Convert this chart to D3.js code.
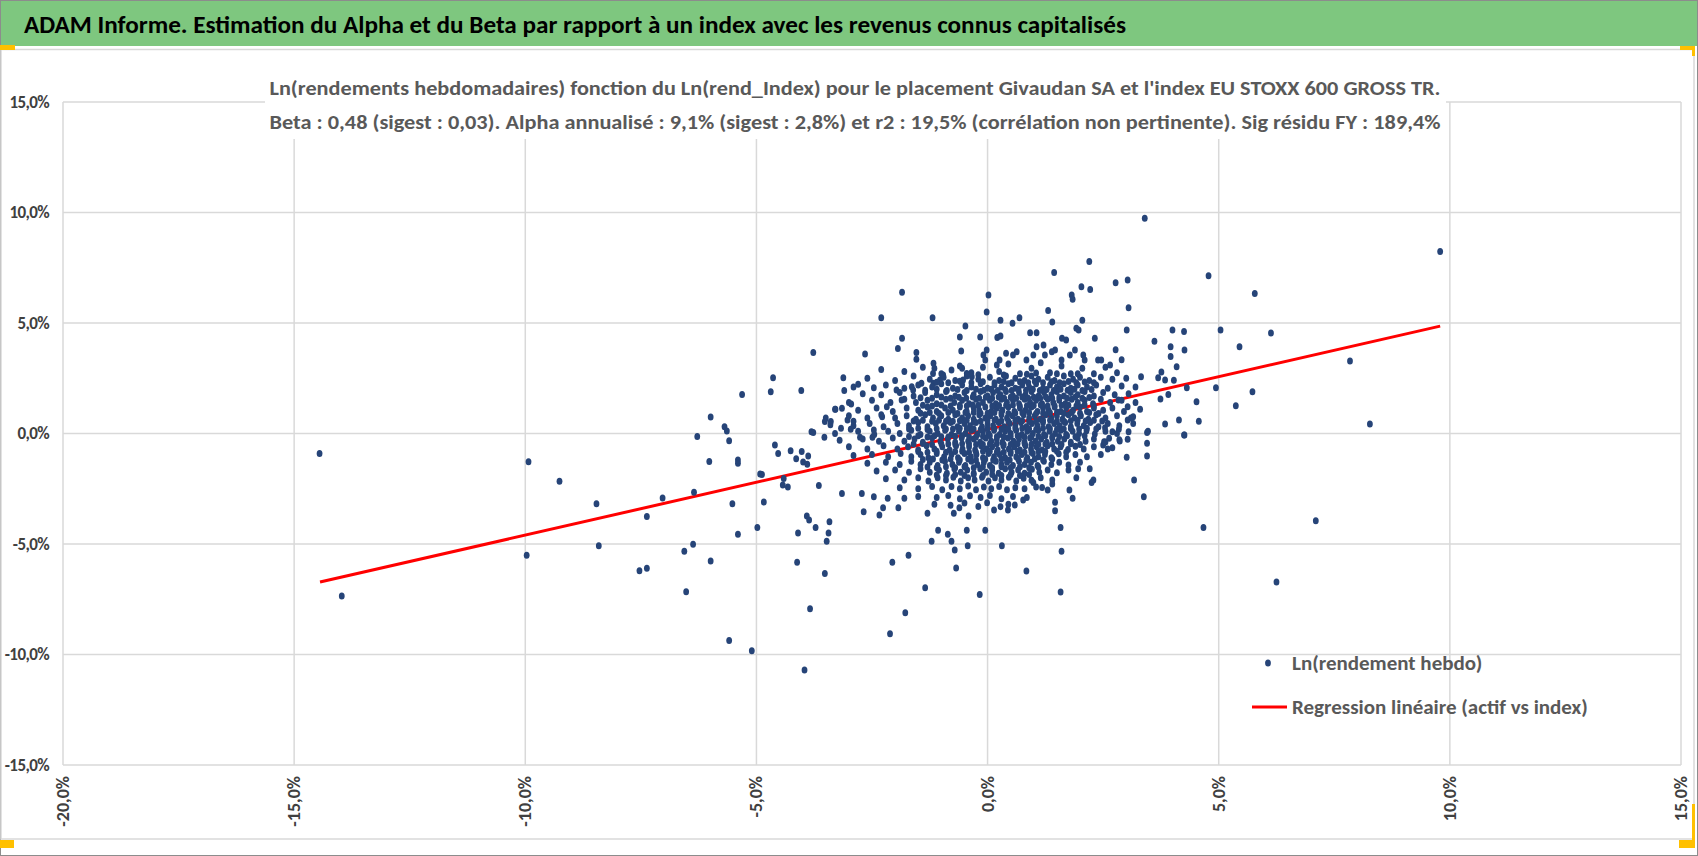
<!DOCTYPE html>
<html>
<head>
<meta charset="utf-8">
<script src="https://cdn.jsdelivr.net/npm/d3@7"></script>
<style>
  body { margin: 0; background: #fff; }
  svg text { font-family: Carlito, Calibri, Lato, "Open Sans", sans-serif; }
</style>
</head>
<body>
<svg id="chart" width="1698" height="856"></svg>
<script>
// header texts
const mainTitle = "ADAM Informe. Estimation du Alpha et du Beta par rapport à un index avec les revenus connus capitalisés"
const subTitle = [
    "Ln(rendements hebdomadaires) fonction du Ln(rend_Index) pour le placement Givaudan SA et l'index EU STOXX 600 GROSS TR.",
    "Beta : 0,48 (sigest : 0,03). Alpha annualisé : 9,1% (sigest : 2,8%) et r2 : 19,5% (corrélation non pertinente). Sig résidu FY : 189,4%"
]
const legendLabels = ["Ln(rendement hebdo)", "Regression linéaire (actif vs index)"]

// axis ticks (in %)
const xTicks = [-20, -15, -10, -5, 0, 5, 10, 15]
const yTicks = [-15, -10, -5, 0, 5, 10, 15]

// regression line (actif vs index), in %
const regX = [-14.44, 9.79]
const regY = [-6.72, 4.86]

// weekly log returns [index %, asset %]
// outliers / sparse points
const outerPoints = [
    [-14.45, -0.90], [-13.97, -7.35], [-9.93, -1.28], [-9.97, -5.51], [-9.26, -2.16],
    [-8.46, -3.18], [-8.41, -5.08], [-7.03, -2.92], [-7.37, -3.75], [-7.53, -6.21],
    [-7.37, -6.10], [-6.52, -7.16], [-6.56, -5.33], [-6.37, -5.01], [-6.35, -2.66],
    [-6.28, -0.14], [-6.02, -1.27], [-5.99, 0.75], [-5.99, -5.77], [-5.69, 0.31],
    [-5.64, 0.11], [-5.59, -0.33], [-5.40, -1.20], [-5.40, -1.35], [-5.52, -3.18],
    [-5.40, -4.56], [-5.31, 1.77], [-5.59, -9.37], [-5.10, -9.83], [-4.98, -4.25],
    [-4.92, -1.83], [-3.96, -10.70], [-3.84, -7.93], [-3.52, -6.34], [-4.12, -5.83],
    [-4.10, -4.50], [-3.48, -4.88], [-3.44, -4.50], [-3.42, -3.99], [-3.72, -4.25],
    [-3.91, -3.73], [-3.86, -3.91], [-4.84, -3.10], [-4.88, -1.85], [-4.43, -2.33],
    [-4.32, -2.42], [-4.41, -2.04], [-4.60, -0.52], [-4.53, -0.90], [-4.26, -0.78],
    [-4.14, -1.14], [-4.02, -0.82], [-3.99, -1.29], [-3.90, -1.39], [-3.88, -1.02],
    [-3.65, -2.35], [-2.11, -9.06], [-1.78, -8.11], [-1.35, -6.98], [-2.06, -5.83],
    [-1.71, -5.51], [-1.21, -4.88], [-1.07, -4.38], [-0.86, -4.56], [-0.78, -4.88],
    [-0.71, -5.27], [-0.68, -6.09], [-0.43, -5.08], [-0.45, -4.38], [-0.17, -7.29],
    [-0.05, -4.38], [0.31, -5.08], [0.84, -6.22], [1.58, -4.25], [1.60, -5.33],
    [1.58, -7.17], [1.46, -3.11], [1.46, -3.49], [3.38, -2.86], [3.17, -2.10],
    [4.67, -4.25], [4.26, -0.07], [3.45, -1.02], [3.45, -0.44], [3.45, 0.04],
    [3.01, -1.08], [3.03, -0.26], [2.86, -0.34], [2.70, -0.64], [2.50, -0.52],
    [2.52, -0.37], [2.63, -0.22], [2.21, -1.59], [2.29, -2.10], [2.25, -2.22],
    [1.84, -2.93], [1.77, -2.56], [1.92, -2.00], [1.96, -1.59], [0.99, -2.22],
    [1.18, -2.44], [1.30, -2.56], [1.40, -2.29], [0.59, -3.24], [0.77, -3.01],
    [0.44, -3.46], [0.28, -3.31], [0.14, -3.46], [-0.01, -3.13], [-0.41, -3.73],
    [-0.73, -3.61], [-0.61, -3.36], [-1.30, -3.61], [-2.34, -3.69], [-2.68, -3.54],
    [-2.26, -3.36], [-2.16, -2.93], [-1.93, -3.36], [-1.80, -2.93], [-3.15, -2.72],
    [-2.46, -2.86], [-2.72, -2.72],
    [3.40, 9.74], [2.20, 7.78], [1.44, 7.28], [2.77, 6.82], [3.03, 6.95],
    [2.03, 6.64], [2.22, 6.52], [1.82, 6.27], [1.84, 6.07], [4.78, 7.14],
    [3.05, 5.69], [0.02, 6.27], [-0.02, 5.50], [-1.85, 6.39], [-2.30, 5.24],
    [-1.19, 5.24], [1.31, 5.57], [1.40, 5.05], [2.05, 5.12], [0.28, 5.12],
    [0.54, 4.99], [0.69, 5.24], [-0.48, 4.86], [4.00, 4.68], [4.25, 4.61],
    [5.04, 4.68], [3.61, 4.17], [3.96, 3.93], [4.26, 3.78], [5.45, 3.93],
    [3.01, 4.68], [2.32, 4.31], [3.96, 3.48], [4.09, 3.02], [3.76, 2.78],
    [3.69, 2.52], [3.84, 2.42], [4.03, 2.41], [3.32, 2.57], [4.31, 2.07],
    [4.94, 2.07], [4.52, 1.44], [5.37, 1.26], [4.14, 0.61], [4.57, 0.55],
    [3.84, 0.43], [3.47, 0.10], [4.25, -0.07], [3.74, 1.56], [3.91, 1.77],
    [-4.64, 2.52], [-4.69, 1.89], [-4.03, 1.95], [-3.77, 3.66], [-2.65, 3.60],
    [-3.12, 2.52], [-3.10, 1.95], [-2.80, 2.23], [-2.46, 2.07], [-1.85, 4.31],
    [-1.94, 3.85], [-1.54, 3.66], [-1.54, 3.36], [-0.60, 4.37], [-0.57, 3.73],
    [-0.16, 4.37], [0.21, 4.34], [0.28, 4.41], [0.92, 4.56], [1.06, 4.56],
    [1.61, 4.31], [1.70, 4.23], [1.92, 4.76], [1.97, 4.68], [2.77, 3.79],
    [2.90, 3.34], [-3.81, 0.08], [-3.77, 0.05], [-3.52, 0.54], [-3.39, 0.54],
    [-3.29, 1.10], [-3.15, 1.14], [-3.53, -0.17], [-3.17, 0.24], [-2.96, 0.19],
    [-3.03, 0.61], [-2.90, 0.55], [-2.95, 1.33],
    [5.78, 6.33], [6.13, 4.55], [7.84, 3.28], [5.73, 1.89], [8.27, 0.43],
    [7.10, -3.95], [6.25, -6.72], [9.79, 8.23],
    [2.83, 1.52], [3.03, 1.21], [3.15, 0.76], [3.03, 0.61], [2.84, 0.19],
    [2.70, 0.08], [2.54, 0.26], [-2.76, -0.17], [-2.49, -0.17], [-2.46, 0.16],
    [-2.28, 0.76], [-2.18, 1.21], [-1.97, 1.97], [-1.86, 1.52], [-1.64, 2.12],
    [-1.61, 1.97], [-1.43, 2.27], [-1.17, 2.27], [-1.03, 2.42]
]

// dense cloud around the origin
const corePoints = [
    [-1.17, 3.18], [-1.15, 2.95], [-1.18, 2.72], [-0.96, 2.65], [-0.78, 2.87], [-0.55, 2.95],
    [-0.53, 2.42], [-0.34, 2.57], [-0.09, 3.55], [-0.02, 3.78], [-0.05, 3.33], [0.20, 3.10],
    [0.26, 3.33], [0.40, 3.63], [0.55, 3.55], [0.63, 3.70], [0.84, 3.33], [0.99, 3.55],
    [1.06, 3.93], [1.21, 4.00], [1.24, 3.55], [1.39, 3.70], [1.46, 3.78], [1.60, 3.33],
    [1.78, 3.55], [1.89, 3.78], [2.07, 3.55], [2.10, 3.33], [2.39, 3.33], [2.46, 3.33], [2.65, 3.10],
    [-2.3, 2.9], [-1.8, 2.8], [-1.4, 3.0], [-1.0, 2.7], [-0.6, 3.05], [-0.35, 2.75], [-0.1, 3.0],
    [0.25, 2.8], [0.45, 3.15], [0.7, 2.7], [0.95, 2.95], [1.15, 3.2], [1.35, 2.75], [1.6, 3.05],
    [1.8, 2.7], [2.05, 2.95], [2.3, 2.7], [2.55, 3.0], [2.8, 2.75],
    [-2.6, 2.5], [-2.0, 2.4], [-1.6, 2.6], [-1.25, 2.45], [-0.95, 2.55], [-0.7, 2.4], [-0.45, 2.6],
    [-0.2, 2.45], [0.05, 2.55], [0.25, 2.4], [0.4, 2.6], [0.6, 2.5], [0.8, 2.4], [0.95, 2.6],
    [1.1, 2.45], [1.3, 2.55], [1.45, 2.4], [1.65, 2.6], [1.85, 2.45], [2.0, 2.55], [2.2, 2.4],
    [2.45, 2.55], [2.7, 2.45], [3.0, 2.5],
    [-2.9, 2.1], [-2.2, 2.2], [-1.8, 2.05], [-1.5, 2.2], [-1.2, 2.1], [-1.0, 2.25], [-0.75, 2.05],
    [-0.55, 2.2], [-0.35, 2.1], [-0.15, 2.25], [0.0, 2.05], [0.15, 2.2], [0.3, 2.1], [0.45, 2.25],
    [0.6, 2.05], [0.75, 2.2], [0.9, 2.1], [1.05, 2.25], [1.2, 2.05], [1.35, 2.2], [1.5, 2.1],
    [1.65, 2.25], [1.8, 2.05], [1.95, 2.2], [2.15, 2.1], [2.35, 2.2], [2.6, 2.05], [2.9, 2.15], [3.2, 2.1],
    [-2.7, 1.8], [-2.3, 1.75], [-1.9, 1.85], [-1.6, 1.7], [-1.35, 1.85], [-1.1, 1.75], [-0.9, 1.9],
    [-0.7, 1.7], [-0.5, 1.85], [-0.3, 1.75], [-0.15, 1.9], [0.0, 1.7], [0.12, 1.85], [0.28, 1.75],
    [0.4, 1.9], [0.55, 1.7], [0.68, 1.85], [0.82, 1.75], [0.95, 1.9], [1.1, 1.7], [1.22, 1.85],
    [1.38, 1.75], [1.5, 1.9], [1.65, 1.7], [1.8, 1.85], [1.95, 1.75], [2.1, 1.9], [2.3, 1.7],
    [2.5, 1.85], [2.75, 1.75], [3.05, 1.8],
    [-3.0, 1.4], [-2.5, 1.5], [-2.1, 1.4], [-1.8, 1.55], [-1.55, 1.4], [-1.3, 1.5], [-1.1, 1.35],
    [-0.9, 1.55], [-0.72, 1.4], [-0.55, 1.5], [-0.4, 1.35], [-0.25, 1.55], [-0.1, 1.4], [0.05, 1.5],
    [0.18, 1.35], [0.3, 1.55], [0.42, 1.4], [0.55, 1.5], [0.68, 1.35], [0.8, 1.55], [0.92, 1.4],
    [1.05, 1.5], [1.18, 1.35], [1.3, 1.55], [1.42, 1.4], [1.55, 1.5], [1.68, 1.35], [1.82, 1.55],
    [1.95, 1.4], [2.1, 1.5], [2.28, 1.35], [2.45, 1.55], [2.65, 1.4], [2.9, 1.5], [3.2, 1.4],
    [-3.3, 1.1], [-2.8, 1.05], [-2.4, 1.15], [-2.05, 1.0], [-1.75, 1.15], [-1.5, 1.05], [-1.3, 1.2],
    [-1.1, 1.0], [-0.92, 1.15], [-0.75, 1.05], [-0.6, 1.2], [-0.45, 1.0], [-0.3, 1.15], [-0.18, 1.05],
    [-0.05, 1.2], [0.08, 1.0], [0.2, 1.15], [0.32, 1.05], [0.45, 1.2], [0.58, 1.0], [0.7, 1.15],
    [0.82, 1.05], [0.95, 1.2], [1.08, 1.0], [1.2, 1.15], [1.32, 1.05], [1.45, 1.2], [1.58, 1.0],
    [1.7, 1.15], [1.85, 1.05], [2.0, 1.2], [2.15, 1.0], [2.3, 1.15], [2.5, 1.05], [2.7, 1.15],
    [2.95, 1.0], [3.3, 1.1],
    [-3.5, 0.7], [-3.0, 0.8], [-2.6, 0.7], [-2.3, 0.85], [-2.0, 0.7], [-1.75, 0.8], [-1.55, 0.65],
    [-1.35, 0.85], [-1.18, 0.7], [-1.0, 0.8], [-0.85, 0.65], [-0.7, 0.85], [-0.55, 0.7], [-0.42, 0.8],
    [-0.3, 0.65], [-0.18, 0.85], [-0.05, 0.7], [0.06, 0.8], [0.18, 0.65], [0.3, 0.85], [0.42, 0.7],
    [0.54, 0.8], [0.66, 0.65], [0.78, 0.85], [0.9, 0.7], [1.02, 0.8], [1.14, 0.65], [1.26, 0.85],
    [1.38, 0.7], [1.5, 0.8], [1.62, 0.65], [1.75, 0.85], [1.88, 0.7], [2.02, 0.8], [2.18, 0.65],
    [2.35, 0.85], [2.55, 0.7], [2.8, 0.8], [3.1, 0.7],
    [-3.4, 0.4], [-2.9, 0.35], [-2.55, 0.45], [-2.25, 0.3], [-1.95, 0.45], [-1.7, 0.35], [-1.5, 0.5],
    [-1.3, 0.3], [-1.12, 0.45], [-0.95, 0.35], [-0.8, 0.5], [-0.65, 0.3], [-0.5, 0.45], [-0.38, 0.35],
    [-0.25, 0.5], [-0.12, 0.3], [0.0, 0.45], [0.12, 0.35], [0.24, 0.5], [0.36, 0.3], [0.48, 0.45],
    [0.6, 0.35], [0.72, 0.5], [0.84, 0.3], [0.96, 0.45], [1.08, 0.35], [1.2, 0.5], [1.32, 0.3],
    [1.44, 0.45], [1.56, 0.35], [1.68, 0.5], [1.8, 0.3], [1.94, 0.45], [2.08, 0.35], [2.22, 0.5],
    [2.4, 0.3], [2.6, 0.45], [2.85, 0.35], [3.15, 0.45],
    [-3.3, 0.0], [-2.8, 0.1], [-2.45, -0.05], [-2.15, 0.1], [-1.9, 0.0], [-1.65, 0.15], [-1.45, -0.05],
    [-1.25, 0.1], [-1.08, 0.0], [-0.92, 0.15], [-0.78, -0.05], [-0.62, 0.1], [-0.48, 0.0], [-0.35, 0.15],
    [-0.22, -0.05], [-0.1, 0.1], [0.02, 0.0], [0.14, 0.15], [0.26, -0.05], [0.38, 0.1], [0.5, 0.0],
    [0.62, 0.15], [0.74, -0.05], [0.86, 0.1], [0.98, 0.0], [1.1, 0.15], [1.22, -0.05], [1.34, 0.1],
    [1.46, 0.0], [1.58, 0.15], [1.7, -0.05], [1.84, 0.1], [1.98, 0.0], [2.14, 0.12], [2.32, -0.02],
    [2.55, 0.1], [2.8, 0.0], [3.05, 0.08],
    [-3.2, -0.3], [-2.7, -0.25], [-2.35, -0.35], [-2.05, -0.2], [-1.8, -0.35], [-1.58, -0.25], [-1.4, -0.4],
    [-1.2, -0.2], [-1.02, -0.35], [-0.86, -0.25], [-0.7, -0.4], [-0.56, -0.2], [-0.42, -0.35], [-0.3, -0.25],
    [-0.16, -0.4], [-0.04, -0.2], [0.08, -0.35], [0.2, -0.25], [0.32, -0.4], [0.44, -0.2], [0.56, -0.35],
    [0.68, -0.25], [0.8, -0.4], [0.92, -0.2], [1.04, -0.35], [1.16, -0.25], [1.28, -0.4], [1.4, -0.2],
    [1.52, -0.35], [1.66, -0.25], [1.8, -0.4], [1.95, -0.22], [2.12, -0.35], [2.3, -0.25], [2.55, -0.38],
    [2.85, -0.28],
    [-3.0, -0.6], [-2.6, -0.7], [-2.25, -0.55], [-1.95, -0.7], [-1.72, -0.6], [-1.5, -0.75], [-1.32, -0.55],
    [-1.15, -0.7], [-0.98, -0.6], [-0.82, -0.75], [-0.68, -0.55], [-0.54, -0.7], [-0.4, -0.6], [-0.27, -0.75],
    [-0.14, -0.55], [-0.02, -0.7], [0.1, -0.6], [0.22, -0.75], [0.34, -0.55], [0.46, -0.7], [0.58, -0.6],
    [0.7, -0.75], [0.82, -0.55], [0.94, -0.7], [1.06, -0.6], [1.18, -0.75], [1.3, -0.55], [1.44, -0.7],
    [1.58, -0.6], [1.74, -0.72], [1.9, -0.58], [2.08, -0.7], [2.3, -0.6], [2.6, -0.7],
    [-2.9, -1.0], [-2.5, -0.95], [-2.15, -1.05], [-1.88, -0.9], [-1.65, -1.05], [-1.45, -0.95], [-1.28, -1.1],
    [-1.1, -0.9], [-0.94, -1.05], [-0.78, -0.95], [-0.64, -1.1], [-0.5, -0.9], [-0.36, -1.05], [-0.24, -0.95],
    [-0.1, -1.1], [0.02, -0.9], [0.14, -1.05], [0.26, -0.95], [0.38, -1.1], [0.5, -0.9], [0.62, -1.05],
    [0.74, -0.95], [0.86, -1.1], [0.98, -0.9], [1.1, -1.05], [1.24, -0.95], [1.38, -1.1], [1.54, -0.92],
    [1.7, -1.05], [1.9, -0.95], [2.15, -1.05], [2.45, -0.95],
    [-2.6, -1.35], [-2.2, -1.3], [-1.9, -1.4], [-1.65, -1.25], [-1.45, -1.4], [-1.25, -1.3], [-1.08, -1.45],
    [-0.92, -1.25], [-0.76, -1.4], [-0.62, -1.3], [-0.48, -1.45], [-0.35, -1.25], [-0.22, -1.4], [-0.08, -1.3],
    [0.05, -1.45], [0.18, -1.25], [0.3, -1.4], [0.42, -1.3], [0.55, -1.45], [0.68, -1.25], [0.8, -1.4],
    [0.94, -1.3], [1.08, -1.45], [1.22, -1.25], [1.38, -1.4], [1.55, -1.3], [1.75, -1.42], [2.0, -1.3],
    [-2.4, -1.7], [-2.0, -1.65], [-1.7, -1.75], [-1.45, -1.6], [-1.25, -1.75], [-1.05, -1.65], [-0.88, -1.8],
    [-0.72, -1.6], [-0.58, -1.75], [-0.44, -1.65], [-0.3, -1.8], [-0.16, -1.6], [-0.03, -1.75], [0.1, -1.65],
    [0.24, -1.8], [0.38, -1.6], [0.52, -1.75], [0.66, -1.65], [0.8, -1.8], [0.96, -1.62], [1.12, -1.75],
    [1.3, -1.65], [1.5, -1.78], [1.75, -1.65],
    [-2.2, -2.05], [-1.8, -2.1], [-1.5, -2.0], [-1.28, -2.15], [-1.08, -2.0], [-0.9, -2.1], [-0.74, -1.98],
    [-0.58, -2.15], [-0.42, -2.0], [-0.28, -2.1], [-0.12, -1.98], [0.02, -2.15], [0.16, -2.0], [0.3, -2.1],
    [0.46, -1.98], [0.62, -2.15], [0.78, -2.02], [0.95, -2.12], [1.15, -2.0], [1.4, -2.1],
    [-1.9, -2.45], [-1.5, -2.5], [-1.2, -2.4], [-0.98, -2.55], [-0.78, -2.4], [-0.6, -2.5], [-0.42, -2.38],
    [-0.25, -2.55], [-0.08, -2.42], [0.08, -2.5], [0.25, -2.4], [0.42, -2.55], [0.6, -2.45], [0.8, -2.5],
    [1.05, -2.42],
    [-1.5, -2.85], [-1.1, -2.9], [-0.85, -2.8], [-0.6, -2.95], [-0.38, -2.82], [-0.15, -2.9], [0.05, -2.8],
    [0.3, -2.95], [0.55, -2.85], [0.85, -2.9],
    [-1.15, -3.2], [-0.8, -3.25], [-0.5, -3.15], [-0.2, -3.3], [0.45, -3.2]
]

// extra points filling the densest part of the cloud
const densePoints = [
    [-0.9, 0.55], [-0.6, 0.58], [-0.3, 0.52], [0.0, 0.6], [0.3, 0.56], [0.6, 0.6], [0.9, 0.54],
    [1.2, 0.6], [1.5, 0.55], [1.8, 0.58], [-0.75, 0.2], [-0.45, 0.22], [-0.15, 0.18], [0.15, 0.22],
    [0.45, 0.2], [0.75, 0.24], [1.05, 0.18], [1.35, 0.22], [1.65, 0.2], [-1.0, -0.15], [-0.7, -0.12],
    [-0.4, -0.16], [-0.1, -0.12], [0.2, -0.15], [0.5, -0.12], [0.8, -0.16], [1.1, -0.12], [1.4, -0.15],
    [-0.85, -0.48], [-0.55, -0.46], [-0.25, -0.5], [0.05, -0.47], [0.35, -0.5], [0.65, -0.46],
    [0.95, -0.49], [1.25, -0.47], [-0.7, -0.82], [-0.4, -0.85], [-0.1, -0.8], [0.2, -0.84],
    [0.5, -0.82], [0.8, -0.85], [1.1, -0.8], [-0.3, 0.95], [0.0, 0.92], [0.3, 0.96], [0.6, 0.92],
    [0.9, 0.95], [1.2, 0.92], [1.5, 0.96], [-0.2, 1.28], [0.1, 1.25], [0.4, 1.28], [0.7, 1.24],
    [1.0, 1.27], [1.3, 1.25], [1.6, 1.28],
    [-0.45, 2.72], [-0.2, 2.66], [0.35, 2.65], [0.85, 2.68], [1.05, 2.74], [1.5, 2.7], [1.95, 2.7],
    [-1.1, 2.32], [-0.85, 2.3], [-0.6, 2.36], [-0.35, 2.3], [-0.1, 2.34], [0.15, 2.3], [0.35, 2.35],
    [0.52, 2.3], [0.7, 2.34], [0.88, 2.3], [1.02, 2.36], [1.2, 2.3], [1.38, 2.34], [1.56, 2.3],
    [1.75, 2.35], [1.92, 2.3], [2.1, 2.33], [2.3, 2.3],
    [-1.35, 1.96], [-1.1, 2.0], [-0.88, 1.95], [-0.65, 1.99], [-0.45, 1.95], [-0.25, 2.0], [-0.08, 1.96],
    [0.08, 2.0], [0.22, 1.95], [0.38, 1.99], [0.52, 1.95], [0.67, 2.0], [0.83, 1.96], [0.98, 2.0],
    [1.13, 1.95], [1.28, 1.99], [1.43, 1.95], [1.58, 2.0], [1.73, 1.96], [1.88, 2.0], [2.05, 1.95], [2.25, 1.99],
    [-1.45, 1.62], [-1.2, 1.6], [-1.0, 1.65], [-0.8, 1.6], [-0.62, 1.64], [-0.46, 1.6], [-0.32, 1.65],
    [-0.18, 1.6], [-0.04, 1.64], [0.1, 1.6], [0.24, 1.65], [0.36, 1.6], [0.5, 1.64], [0.62, 1.6],
    [0.75, 1.65], [0.88, 1.6], [1.0, 1.64], [1.14, 1.6], [1.26, 1.65], [1.4, 1.6], [1.55, 1.64],
    [1.72, 1.6], [1.9, 1.65], [2.05, 1.6], [2.2, 1.63],
    [-1.4, 1.28], [-1.2, 1.25], [-1.0, 1.29], [-0.8, 1.25], [-0.6, 1.28], [-0.45, 1.25], [-0.32, 1.29],
    [0.25, 1.27], [0.55, 1.29], [0.85, 1.26], [1.15, 1.29], [1.45, 1.26], [1.75, 1.28], [1.92, 1.25],
    [2.1, 1.29], [2.3, 1.26],
    [-1.45, 0.92], [-1.25, 0.95], [-1.05, 0.9], [-0.85, 0.95], [-0.65, 0.91], [-0.48, 0.95], [-0.15, 0.92],
    [0.15, 0.95], [0.45, 0.91], [0.75, 0.94], [1.05, 0.91], [1.35, 0.94], [1.65, 0.91], [1.82, 0.95],
    [2.0, 0.92], [2.2, 0.95], [2.4, 0.91],
    [-1.6, 0.57], [-1.4, 0.6], [-1.2, 0.55], [-1.05, 0.6], [-0.75, 0.55], [-0.45, 0.6], [-0.15, 0.55],
    [0.15, 0.6], [0.45, 0.55], [0.75, 0.58], [1.05, 0.55], [1.35, 0.6], [1.65, 0.55], [1.95, 0.6],
    [2.12, 0.56], [2.3, 0.6], [2.48, 0.56],
    [-1.7, 0.2], [-1.5, 0.24], [-1.3, 0.18], [-1.1, 0.22], [-0.9, 0.2], [-0.6, 0.24], [-0.3, 0.2],
    [0.0, 0.24], [0.3, 0.19], [0.6, 0.23], [0.9, 0.2], [1.2, 0.24], [1.5, 0.19], [1.8, 0.23],
    [1.98, 0.2], [2.15, 0.24], [2.35, 0.2],
    [-1.7, -0.14], [-1.5, -0.1], [-1.3, -0.16], [-1.15, -0.1], [-0.85, -0.16], [-0.55, -0.1], [-0.25, -0.16],
    [0.05, -0.1], [0.35, -0.16], [0.65, -0.1], [0.95, -0.16], [1.25, -0.1], [1.55, -0.14], [1.72, -0.1],
    [1.9, -0.15], [2.1, -0.1],
    [-1.6, -0.48], [-1.4, -0.45], [-1.2, -0.5], [-1.0, -0.46], [-0.7, -0.5], [-0.4, -0.46], [-0.1, -0.5],
    [0.2, -0.46], [0.5, -0.5], [0.8, -0.46], [1.1, -0.5], [1.4, -0.47], [1.6, -0.5], [1.8, -0.46], [2.0, -0.5],
    [-1.5, -0.82], [-1.3, -0.85], [-1.1, -0.8], [-0.9, -0.85], [-0.55, -0.8], [-0.25, -0.85], [0.05, -0.8],
    [0.35, -0.85], [0.65, -0.8], [0.95, -0.85], [1.25, -0.82], [1.5, -0.8], [1.7, -0.85],
    [-1.4, -1.18], [-1.18, -1.15], [-0.98, -1.2], [-0.8, -1.15], [-0.6, -1.2], [-0.42, -1.15], [-0.25, -1.2],
    [-0.05, -1.15], [0.12, -1.2], [0.3, -1.15], [0.48, -1.2], [0.66, -1.15], [0.84, -1.2], [1.02, -1.15],
    [1.2, -1.2], [1.4, -1.15],
    [-1.3, -1.52], [-1.1, -1.55], [-0.9, -1.5], [-0.7, -1.55], [-0.5, -1.5], [-0.3, -1.55], [-0.1, -1.5],
    [0.1, -1.55], [0.3, -1.5], [0.5, -1.55], [0.7, -1.5], [0.9, -1.55], [1.1, -1.52],
    [-1.1, -1.88], [-0.9, -1.9], [-0.7, -1.85], [-0.5, -1.9], [-0.3, -1.86], [-0.1, -1.9], [0.1, -1.85],
    [0.3, -1.9], [0.5, -1.86], [0.7, -1.9], [0.9, -1.86]
]

const returns = outerPoints.concat(corePoints, densePoints)

// ---- layout ----
const W = 1698, H = 856
const plot = { left: 63, right: 1681, top: 102, bottom: 765 }
const dotColor = "#264478"
const gridColor = "#d9d9d9"
const textColor = "#595959"

const frLocale = d3.formatLocale({ decimal: ",", thousands: " ", grouping: [3], currency: ["", " €"], minus: "-" })
const pct = frLocale.format(".1f")

const x = d3.scaleLinear().domain([-20, 15]).range([plot.left, plot.right])
const y = d3.scaleLinear().domain([-15, 15]).range([plot.bottom, plot.top])

const svg = d3.select("#chart")

// frame
svg.append("rect").attr("x", 0.5).attr("y", 0.5).attr("width", W - 1).attr("height", H - 1)
    .attr("fill", "#fff").attr("stroke", "#8c8c8c")

// header band
svg.append("rect").attr("x", 1).attr("y", 1).attr("width", W - 2).attr("height", 45)
    .attr("fill", "#7ec77f")
svg.append("text")
    .attr("x", 24).attr("y", 24)
    .attr("dominant-baseline", "central")
    .attr("font-size", 24).attr("font-weight", 600)
    .attr("fill", "#000")
    .attr("textLength", 1102).attr("lengthAdjust", "spacingAndGlyphs")
    .text(mainTitle)

// chart area border
svg.append("rect").attr("x", 1).attr("y", 49.5).attr("width", 1693).attr("height", 789.5)
    .attr("fill", "none").attr("stroke", gridColor).attr("stroke-width", 1.5)

// little yellow corner marks
const corner = svg.append("g").attr("fill", "#ffc000")
corner.append("rect").attr("x", 0).attr("y", 45).attr("width", 15).attr("height", 5)
corner.append("rect").attr("x", 1680).attr("y", 46).attr("width", 15).attr("height", 4)
corner.append("rect").attr("x", 1692).attr("y", 46).attr("width", 3).attr("height", 10)
corner.append("rect").attr("x", 0).attr("y", 840).attr("width", 14).attr("height", 8)
corner.append("rect").attr("x", 1679).attr("y", 840).attr("width", 16).attr("height", 8)
corner.append("rect").attr("x", 1692).attr("y", 804).attr("width", 3).attr("height", 40)

// grid
const grid = svg.append("g").attr("stroke", gridColor).attr("stroke-width", 1.5)
grid.selectAll("line.v").data(xTicks).join("line")
    .attr("class", "v")
    .attr("x1", d => x(d)).attr("x2", d => x(d))
    .attr("y1", plot.top).attr("y2", plot.bottom)
grid.selectAll("line.h").data(yTicks).join("line")
    .attr("class", "h")
    .attr("x1", plot.left).attr("x2", plot.right)
    .attr("y1", d => y(d)).attr("y2", d => y(d))

// y axis labels
svg.append("g").selectAll("text").data(yTicks).join("text")
    .attr("x", plot.left - 14).attr("y", d => y(d))
    .attr("text-anchor", "end").attr("dominant-baseline", "central")
    .attr("font-size", 17).attr("font-weight", 600).attr("fill", "#404040")
    .attr("letter-spacing", -0.6)
    .text(d => pct(d) + "%")

// x axis labels (rotated)
svg.append("g").selectAll("text").data(xTicks).join("text")
    .attr("transform", d => `translate(${x(d)},${plot.bottom + 11}) rotate(-90)`)
    .attr("text-anchor", "end").attr("dominant-baseline", "central")
    .attr("font-size", 18).attr("font-weight", 600).attr("fill", "#404040")
    .text(d => pct(d) + "%")

// chart title block (covers the grid)
svg.append("rect").attr("x", 265).attr("y", 66).attr("width", 1181).attr("height", 73)
    .attr("fill", "#fff")
svg.append("g").selectAll("text").data(subTitle).join("text")
    .attr("x", 855).attr("y", (d, i) => 88 + i * 34)
    .attr("text-anchor", "middle").attr("dominant-baseline", "central")
    .attr("font-size", 20).attr("font-weight", 600).attr("fill", textColor)
    .attr("textLength", 1171).attr("lengthAdjust", "spacingAndGlyphs")
    .text(d => d)

// regression line (under the dots)
const line = d3.line().x(d => x(d[0])).y(d => y(d[1]))
svg.append("path")
    .datum(regX.map((v, i) => [v, regY[i]]))
    .attr("d", line)
    .attr("fill", "none").attr("stroke", "#ff0000").attr("stroke-width", 3)

// scatter
svg.append("g").selectAll("ellipse").data(returns).join("ellipse")
    .attr("cx", d => x(d[0])).attr("cy", d => y(d[1]))
    .attr("rx", 2.9).attr("ry", 3.5)
    .attr("fill", dotColor)

// legend
const lg = svg.append("g")
lg.append("ellipse").attr("cx", 1268).attr("cy", 663).attr("rx", 2.9).attr("ry", 3.5).attr("fill", dotColor)
lg.append("line").attr("x1", 1252).attr("x2", 1287).attr("y1", 707).attr("y2", 707)
    .attr("stroke", "#ff0000").attr("stroke-width", 3)
lg.selectAll("text").data(legendLabels).join("text")
    .attr("x", 1292).attr("y", (d, i) => 663 + i * 44)
    .attr("dominant-baseline", "central")
    .attr("font-size", 21).attr("font-weight", 600).attr("fill", textColor)
    .text(d => d)
</script>
</body>
</html>
